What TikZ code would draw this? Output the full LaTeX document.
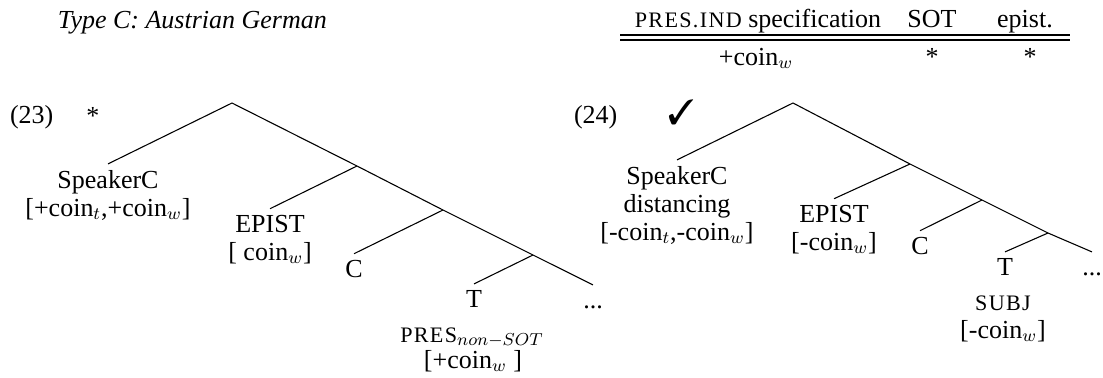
\documentclass[tikz,border=0pt]{standalone}
\usepackage{fontspec}
\setmainfont{Liberation Serif}
\usepackage{pifont}
\newcommand{\fsc}[1]{{\fontsize{10.2}{12}\selectfont\addfontfeature{LetterSpace=6}#1}}
\begin{document}
\begin{tikzpicture}[x=0.4615pt,y=-0.4615pt,
  every node/.style={font=\fontsize{12}{14.4}\selectfont, inner sep=0pt, outer sep=0pt},
  lab/.style={anchor=base, inner xsep=0pt, inner ysep=2.8pt},
  txt/.style={anchor=base},
  edge/.style={line width=0.5pt}]
\useasboundingbox (0,0) rectangle (1103,377);

% title
\node[anchor=base west] (title) at (58,28) {\itshape Type C: Austrian German};

% table
\node[txt] (h1) at (758,27) {\fsc{PRES.IND} specification};
\node[txt] (h2) at (932,27) {SOT};
\node[txt] (h3) at (1025,27) {epist.};
\draw[edge] (620,35) -- (1070,35);
\draw[edge] (620,40) -- (1070,40);
\node[txt] (r1) at (756,65) {+coin$_w$};
\node[txt] (r2) at (932,65) {*};
\node[txt] (r3) at (1030,65) {*};

% (23)
\node[anchor=base west] (ex1) at (10,123) {(23)};
\node[txt] (star) at (93,124) {*};
\coordinate (a0) at (232,103);
\coordinate (a1) at (357,166);
\coordinate (a2) at (443,210);
\coordinate (a3) at (533,255);
\node[lab] (aS) at (108,188) {SpeakerC};
\node[txt] (aSf) at (108,216) {[+coin$_t$,+coin$_w$]};
\node[lab] (aE) at (270,232) {EPIST};
\node[txt] (aEf) at (270,260) {[ coin$_w$]};
\node[lab] (aC) at (354,277) {C};
\node[lab] (aT) at (474,307) {T};
\node[lab] (aD) at (593,308) {\vphantom{T}...};
\node[txt] (aTf1) at (472,342) {\fsc{PRES}$_{non-SOT}$};
\node[txt] (aTf2) at (473,368) {[+coin$_w$ ]};
\draw[edge] (aS.north) -- (a0) -- (a1) -- (a2) -- (a3) -- (aD.north);
\draw[edge] (a1) -- (aE.north);
\draw[edge] (a2) -- (aC.north);
\draw[edge] (a3) -- (aT.north);

% (24)
\node[anchor=base west] (ex2) at (574,123) {(24)};
\node[txt] (check) at (681,124) {\scalebox{1.35}{\ding{51}}};
\coordinate (b0) at (793,103);
\coordinate (b1) at (910,164);
\coordinate (b2) at (982,200);
\coordinate (b3) at (1048,233);
\node[lab] (bS) at (677,184) {SpeakerC};
\node[txt] (bSf1) at (677,212) {distancing};
\node[txt] (bSf2) at (677,240) {[-coin$_t$,-coin$_w$]};
\node[lab] (bE) at (834,222) {EPIST};
\node[txt] (bEf) at (834,250) {[-coin$_w$]};
\node[lab] (bC) at (920,254) {C};
\node[lab] (bT) at (1005,275) {T};
\node[lab] (bD) at (1092,275) {\vphantom{T}...};
\node[txt] (bTf1) at (1003,310) {\fsc{SUBJ}};
\node[txt] (bTf2) at (1003,338) {[-coin$_w$]};
\draw[edge] (bS.north) -- (b0) -- (b1) -- (b2) -- (b3) -- (bD.north);
\draw[edge] (b1) -- (bE.north);
\draw[edge] (b2) -- (bC.north);
\draw[edge] (b3) -- (bT.north);
\end{tikzpicture}
\end{document}
